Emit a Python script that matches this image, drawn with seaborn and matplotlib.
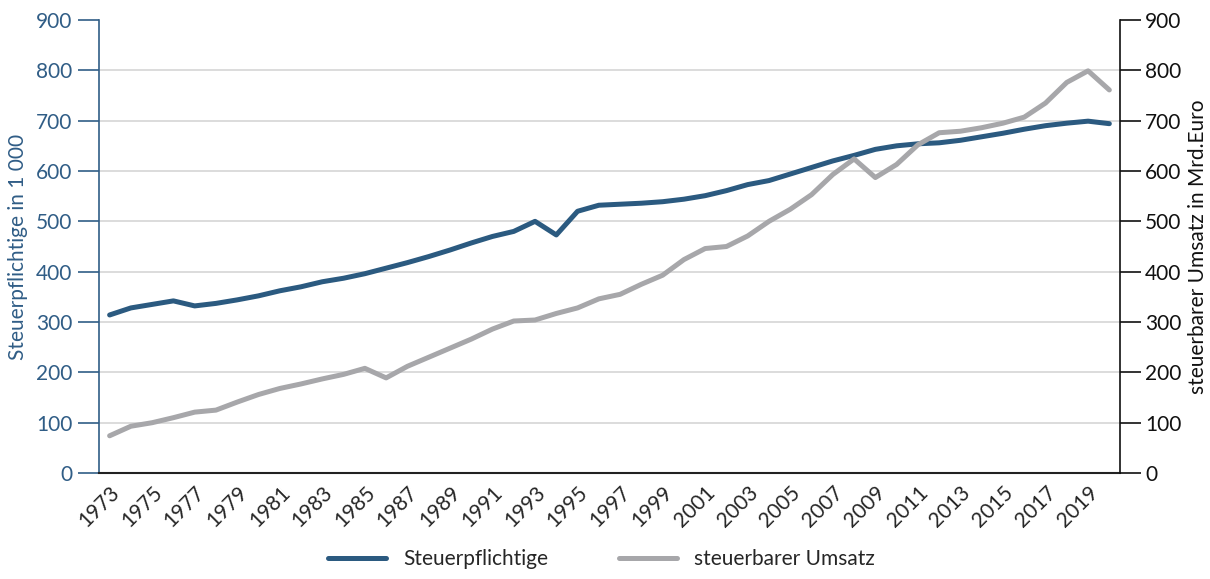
import numpy as np
import pandas as pd
import matplotlib
matplotlib.use("Agg")
import matplotlib.pyplot as plt
from matplotlib.lines import Line2D
import seaborn as sns

years = list(range(1973, 2021))

# Steuerpflichtige in 1 000
steuerpflichtige = [314, 328, 335, 342, 332, 337, 344, 352, 362, 370,
                    380, 387, 396, 407, 418, 430, 443, 457, 470, 480,
                    500, 473, 520, 532, 534, 536, 539, 544, 551, 561,
                    573, 581, 594, 607, 620, 631, 643, 650, 654, 656,
                    661, 668, 675, 683, 690, 695, 699, 694]

# steuerbarer Umsatz in Mrd. Euro
umsatz = [74, 93, 100, 110, 121, 125, 141, 156, 168, 177,
          187, 196, 208, 189, 212, 230, 248, 266, 286, 302,
          304, 317, 328, 346, 355, 375, 393, 424, 446, 450,
          471, 500, 524, 553, 593, 624, 587, 613, 652, 676,
          679, 686, 695, 707, 735, 776, 799, 761]

df = pd.DataFrame({"Jahr": years,
                   "Steuerpflichtige": steuerpflichtige,
                   "steuerbarer Umsatz": umsatz})

sns.set_style("white")
plt.rcParams["font.family"] = ["Lato", "DejaVu Sans"]

BLUE = "#2b5a80"
GREY = "#a7a7aa"
LEFT_COL = "#305d86"

fig = plt.figure(figsize=(12.1, 5.79), dpi=100)
ax = fig.add_axes([0.0818, 0.183, 0.8438, 0.7825])
ax2 = ax.twinx()

sns.lineplot(data=df, x="Jahr", y="Steuerpflichtige", ax=ax, color=BLUE,
             linewidth=3.6, solid_capstyle="round", legend=False)
sns.lineplot(data=df, x="Jahr", y="steuerbarer Umsatz", ax=ax2, color=GREY,
             linewidth=3.6, solid_capstyle="round", legend=False)

for a in (ax, ax2):
    a.set_ylim(0, 900)
    a.set_yticks(range(0, 1000, 100))
    a.set_xlim(years[0] - 0.5, years[-1] + 0.5)

# x axis: boundaries as tick marks, every other year labelled
ax.set_xticks(years[::2])
ax.set_xticklabels([str(y) for y in years[::2]], rotation=45, ha="right",
                   rotation_mode="anchor", fontsize=15)
ax.set_xticks(np.arange(years[0] - 0.5, years[-1] + 1, 1), minor=True)
ax.tick_params(axis="x", which="major", length=0, pad=7)
ax.tick_params(axis="x", which="minor", length=7, width=1.2, color="#222222",
               direction="out")
ax.set_xlabel("")

# grid
ax.yaxis.grid(True, color="#d9d9d9", linewidth=1.3)
ax.set_axisbelow(True)
for g in ax.yaxis.get_gridlines()[::9]:
    g.set_visible(False)

# left axis styling
ax.tick_params(axis="y", length=15, width=1.2, color=LEFT_COL,
               labelcolor=LEFT_COL, labelsize=15, direction="out", pad=4)
ax.set_ylabel("Steuerpflichtige in 1 000", color=LEFT_COL, fontsize=15)
ax.yaxis.set_label_coords(-0.079, 0.5)
ax.yaxis.label.set_va("center")

# right axis styling
ax2.tick_params(axis="y", length=15, width=1.2, color="#111111",
                labelcolor="#111111", labelsize=15, direction="out", pad=3)
ax2.set_ylabel("steuerbarer Umsatz in Mrd.Euro", color="#111111",
               fontsize=15, rotation=90)
ax2.yaxis.set_label_coords(1.076, 0.5)
ax2.yaxis.label.set_va("center")

for a in (ax, ax2):
    for s in a.spines.values():
        s.set_visible(False)
ax.spines["left"].set_visible(True)
ax.spines["left"].set_color(LEFT_COL)
ax.spines["left"].set_linewidth(1.2)
ax.spines["bottom"].set_visible(True)
ax.spines["bottom"].set_color("#222222")
ax.spines["bottom"].set_linewidth(1.5)
ax2.spines["right"].set_visible(True)
ax2.spines["right"].set_color("#111111")
ax2.spines["right"].set_linewidth(1.2)

handles = [Line2D([], [], color=BLUE, linewidth=3.6, solid_capstyle="round"),
           Line2D([], [], color=GREY, linewidth=3.6, solid_capstyle="round")]
fig.legend(handles, ["Steuerpflichtige", "steuerbarer Umsatz"],
           loc="lower center", bbox_to_anchor=(0.497, -0.015), ncol=2,
           frameon=False, fontsize=15, handlelength=2.8, handletextpad=0.8,
           columnspacing=3.4)

fig.savefig("out.png", dpi=100)
